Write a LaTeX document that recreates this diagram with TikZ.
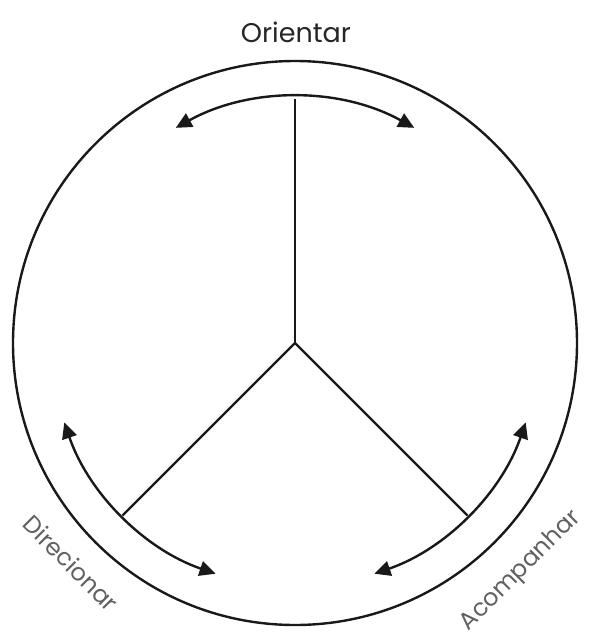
\documentclass[tikz,border=0pt]{standalone}
\usepackage{fontspec}
\setmainfont{Poppins}
\usetikzlibrary{arrows.meta,calc}
\begin{document}
\begin{tikzpicture}[x=1pt,y=1pt,
  lin/.style={line width=2.4pt,black!90},
  tip/.tip={Triangle[length=16pt,width=15pt]},
  arr/.style={lin,tip-tip},
  lab/.style={font=\fontsize{27}{32}\selectfont,inner sep=0pt},
  slab/.style={font=\fontsize{24}{29}\selectfont,inner sep=0pt,text=black!62},
]
\useasboundingbox (0,0) rectangle (591,-638);
\coordinate (hub) at (295,-343);
\draw[lin] (hub) circle[radius=282];
% spokes
\coordinate (top) at ($(hub)+(90:244)$);
\coordinate (ll) at ($(hub)+(225:244)$);
\coordinate (lr) at ($(hub)+(315:244)$);
\draw[lin] (hub) -- (top);
\draw[lin] (hub) -- (ll);
\draw[lin] (hub) -- (lr);
% double arrows
\draw[arr] ($(hub)+(61:246)$) arc[start angle=61, end angle=119, radius=246];
\draw[arr] ($(hub)+(199:244)$) arc[start angle=199, end angle=251, radius=244];
\draw[arr] ($(hub)+(289:244)$) arc[start angle=289, end angle=341, radius=244];
% labels
\node[lab,text=black!85] (ori) at (296,-32) {Orientar};
\node[slab,rotate=-45] (dir) at (71,-563) {Direcionar};
\node[slab,rotate=45] (aco) at (521,-571) {Acompanhar};
\end{tikzpicture}
\end{document}
